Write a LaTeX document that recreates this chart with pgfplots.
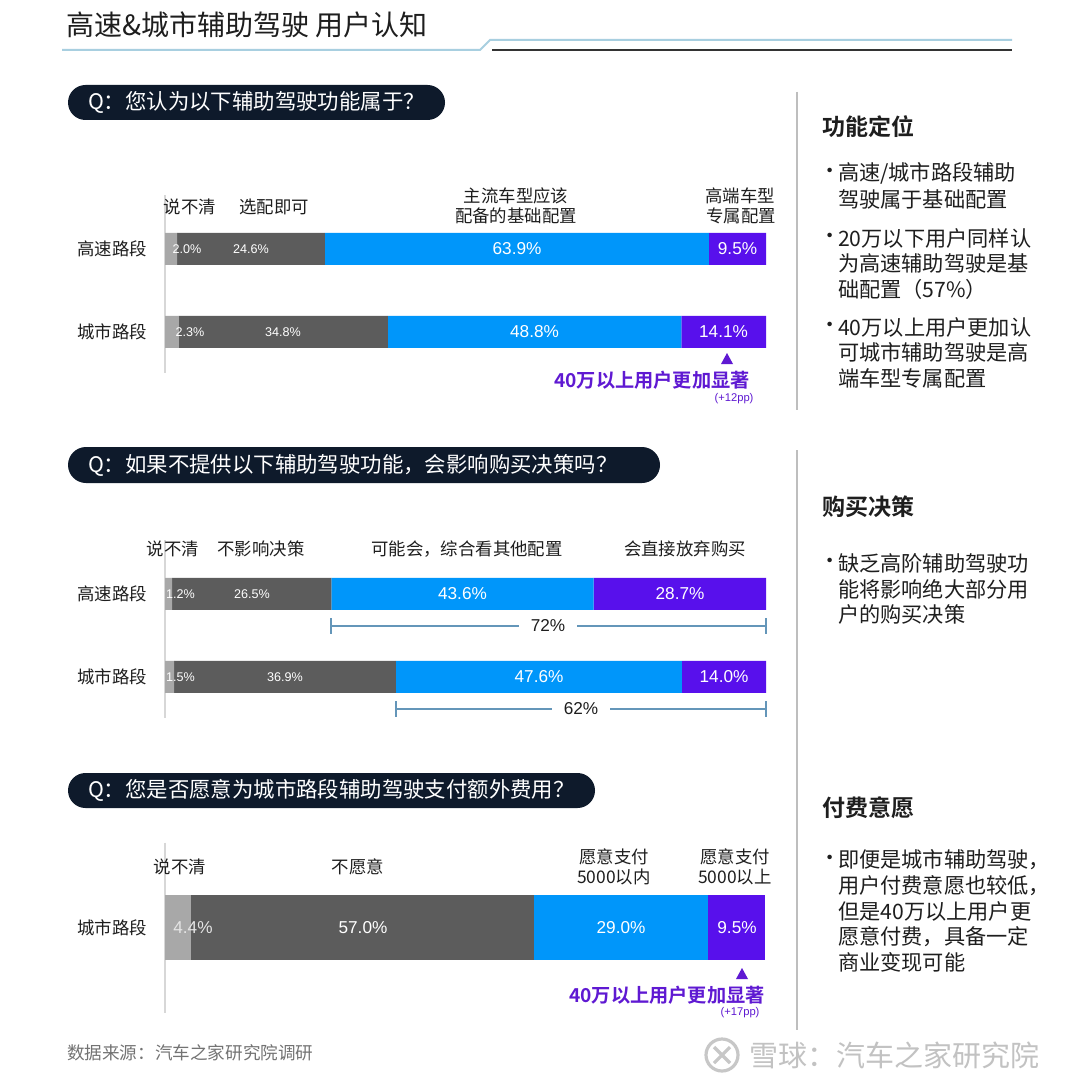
\documentclass[border=0pt]{standalone}
\usepackage{pgfplots}
\pgfplotsset{compat=1.18}
\usepackage{fontspec}
\setmainfont{Noto Sans CJK SC}[BoldFont={Noto Sans CJK SC Bold}]
\newfontfamily\arial{Liberation Sans}
\newcommand\fs[2]{\fontsize{#1pt}{#2pt}\selectfont}

\definecolor{lgray}{RGB}{168,168,168}
\definecolor{dgray}{RGB}{92,92,92}
\definecolor{cblue}{RGB}{0,150,250}
\definecolor{cpurple}{RGB}{88,16,236}
\definecolor{navy}{RGB}{14,26,43}
\definecolor{txt}{RGB}{30,30,30}
\definecolor{anno}{RGB}{95,25,210}
\definecolor{brk}{RGB}{100,150,185}
\definecolor{axisgray}{RGB}{215,215,215}
\definecolor{sep}{RGB}{190,190,190}
\definecolor{tline}{RGB}{168,207,224}

\tikzset{
  vs/.style={font=\arial\fs{6.3}{7}, text=white},
  vb/.style={font=\arial\fs{8.6}{10}, text=white},
  cat/.style={font=\fs{8.7}{10}, text=txt},
  side/.style={font=\fs{10.6}{13}, text=txt, anchor=west},
  head/.style={font=\bfseries\fs{11.5}{13}, text=txt, anchor=west},
}

\pgfplotsset{
  rowbars/.style={
    anchor=north west, scale only axis, width=300.5pt,
    xbar stacked, xmin=0, xmax=100, y dir=reverse,
    axis x line=none, axis y line*=left,
    y axis line style={draw=axisgray, line width=0.8pt, -},
    major tick length=0pt, ytick style={draw=none},
    yticklabel style={font=\fs{8.7}{10}, text=txt, xshift=-5.5pt},
    every axis plot/.append style={draw=none},
    clip=false,
  },
}

\begin{document}
\begin{tikzpicture}
\path[use as bounding box] (0,0) rectangle (540pt,-545.5pt);
\fill[white] (0,0) rectangle (540pt,-545.5pt);

% ---- chart 1
\begin{axis}[rowbars,
  at={(82.5pt,-97.5pt)}, height=89.2pt, bar width=16pt,
  ymin=-0.65, ymax=1.5, ytick={0,1}, yticklabels={高速路段,城市路段}]
\addplot[fill=lgray]   coordinates {(2.0,0) (2.3,1)};
\addplot[fill=dgray]   coordinates {(24.6,0) (34.8,1)};
\addplot[fill=cblue]   coordinates {(63.9,0) (48.8,1)};
\addplot[fill=cpurple] coordinates {(9.5,0) (14.1,1)};
\end{axis}

% ---- chart 2
\begin{axis}[rowbars,
  at={(82.5pt,-270pt)}, height=89.2pt, bar width=16pt,
  ymin=-0.65, ymax=1.5, ytick={0,1}, yticklabels={高速路段,城市路段}]
\addplot[fill=lgray]   coordinates {(1.2,0) (1.5,1)};
\addplot[fill=dgray]   coordinates {(26.5,0) (36.9,1)};
\addplot[fill=cblue]   coordinates {(43.6,0) (47.6,1)};
\addplot[fill=cpurple] coordinates {(28.7,0) (14.0,1)};
\end{axis}

% ---- chart 3
\begin{axis}[rowbars,
  at={(82.5pt,-421.25pt)}, height=85pt, bar width=32.5pt,
  ymin=-1, ymax=1, ytick={0}, yticklabels={城市路段}]
\addplot[fill=lgray]   coordinates {(4.4,0)};
\addplot[fill=dgray]   coordinates {(57.0,0)};
\addplot[fill=cblue]   coordinates {(29.0,0)};
\addplot[fill=cpurple] coordinates {(9.5,0)};
\end{axis}

\begin{scope}[x=0.5pt,y=-0.5pt]
% value labels (x = 165 + value * 6.01 px)
\node[vs] at (187,249) {2.0\%};
\node[vs] at (251,249) {24.6\%};
\node[vb] at (517,249) {63.9\%};
\node[vb] at (737.5,249) {9.5\%};
\node[vs] at (190,332) {2.3\%};
\node[vs] at (283,332) {34.8\%};
\node[vb] at (534.5,332) {48.8\%};
\node[vb] at (723.5,332) {14.1\%};

\node[vs] at (180.5,594) {1.2\%};
\node[vs] at (252,594) {26.5\%};
\node[vb] at (462.5,594) {43.6\%};
\node[vb] at (680,594) {28.7\%};
\node[vs] at (180.5,677) {1.5\%};
\node[vs] at (285,677) {36.9\%};
\node[vb] at (539,677) {47.6\%};
\node[vb] at (724,677) {14.0\%};

\node[vb, text=white!90!black] at (193,927.5) {4.4\%};
\node[vb] at (363,927.5) {57.0\%};
\node[vb] at (621,927.5) {29.0\%};
\node[vb] at (737,927.5) {9.5\%};

% title
\node[anchor=west, font=\fs{14}{16}, text=txt] at (59,25) {高速\&城市辅助驾驶 用户认知};
\draw[tline, line width=1pt] (62,50) -- (480,50) -- (490,40) -- (1012,40);
\draw[black!80, line width=0.8pt] (492,50) -- (1012,50);

% question pills
\fill[navy, rounded corners=8.75pt] (68,85) rectangle (445,120);
\node[anchor=west, font=\fs{10.7}{12}, text=white] at (81,102.5) {Q：您认为以下辅助驾驶功能属于？};
\fill[navy, rounded corners=9pt] (68,447) rectangle (660,483);
\node[anchor=west, font=\fs{10.7}{12}, text=white] at (81,465) {Q：如果不提供以下辅助驾驶功能，会影响购买决策吗？};
\fill[navy, rounded corners=8.75pt] (68,773) rectangle (595,808);
\node[anchor=west, font=\fs{10.7}{12}, text=white] at (81,790.5) {Q：您是否愿意为城市路段辅助驾驶支付额外费用？};

% category labels chart 1
\node[cat] at (190,207) {说不清};
\node[cat] at (274,207) {选配即可};
\node[cat] at (516,196) {主流车型应该};
\node[cat] at (516,216) {配备的基础配置};
\node[cat] at (740,196) {高端车型};
\node[cat] at (741,216) {专属配置};
% annotation chart 1
\fill[anno] (721,364) -- (733,364) -- (727,353) -- cycle;
\node[font=\bfseries\fs{9.6}{11}, text=anno] at (652,380) {40万以上用户更加显著};
\node[font=\arial\fs{5.6}{6}, text=anno] at (734,399) {(+12pp)};

% category labels chart 2
\node[cat] at (173,549) {说不清};
\node[cat] at (261,549) {不影响决策};
\node[cat] at (467,549) {可能会，综合看其他配置};
\node[cat] at (685,549) {会直接放弃购买};
% brackets
\draw[brk, line width=0.6pt] (331,618) -- (331,634) (766,618) -- (766,634) (331,626) -- (766,626);
\node[fill=white, inner xsep=6pt, inner ysep=1pt, font=\arial\fs{8.6}{10}, text=txt] at (548,626) {72\%};
\draw[brk, line width=0.6pt] (396,701) -- (396,717) (766,701) -- (766,717) (396,709) -- (766,709);
\node[fill=white, inner xsep=6pt, inner ysep=1pt, font=\arial\fs{8.6}{10}, text=txt] at (581,709) {62\%};

% category labels chart 3
\node[cat] at (180,867) {说不清};
\node[cat] at (358,867) {不愿意};
\node[cat] at (614,857) {愿意支付};
\node[cat] at (614,877) {5000以内};
\node[cat] at (735,857) {愿意支付};
\node[cat] at (735,877) {5000以上};
% annotation chart 3
\fill[anno] (736,979) -- (748,979) -- (742,968) -- cycle;
\node[font=\bfseries\fs{9.6}{11}, text=anno] at (667,995) {40万以上用户更加显著};
\node[font=\arial\fs{5.6}{6}, text=anno] at (740,1013) {(+17pp)};

% separators
\draw[sep, line width=0.8pt] (797,92) -- (797,410);
\draw[sep, line width=0.8pt] (797,450) -- (797,1030);

% side panel 1
\node[head] at (815,127) {功能定位};
\node[side] at (812,173) {•};
\node[side] at (831,173) {高速/城市路段辅助};
\node[side] at (831,199) {驾驶属于基础配置};
\node[side] at (812,238) {•};
\node[side] at (831,238) {20万以下用户同样认};
\node[side] at (831,263) {为高速辅助驾驶是基};
\node[side] at (831,289) {础配置（57\%）};
\node[side] at (812,327) {•};
\node[side] at (831,327) {40万以上用户更加认};
\node[side] at (831,352) {可城市辅助驾驶是高};
\node[side] at (831,378) {端车型专属配置};

% side panel 2
\node[head] at (815,507) {购买决策};
\node[side] at (812,563) {•};
\node[side] at (831,563) {缺乏高阶辅助驾驶功};
\node[side] at (831,589) {能将影响绝大部分用};
\node[side] at (831,614) {户的购买决策};

% side panel 3
\node[head] at (815,808) {付费意愿};
\node[side] at (812,860) {•};
\node[side] at (831,860) {即便是城市辅助驾驶，};
\node[side] at (831,886) {用户付费意愿也较低，};
\node[side] at (831,911) {但是40万以上用户更};
\node[side] at (831,937) {愿意付费，具备一定};
\node[side] at (831,962) {商业变现可能};

% footer
\node[anchor=west, font=\fs{8.8}{10}, text=black!55] at (60,1053) {数据来源：汽车之家研究院调研};
\draw[black!22, line width=1.6pt] (722,1055) circle (16);
\draw[black!22, line width=1.6pt] (714,1047) -- (730,1063) (730,1047) -- (714,1063);
\node[anchor=west, font=\fs{14.5}{16}, text=black!24] at (742,1055) {雪球：汽车之家研究院};
\end{scope}
\end{tikzpicture}
\end{document}
